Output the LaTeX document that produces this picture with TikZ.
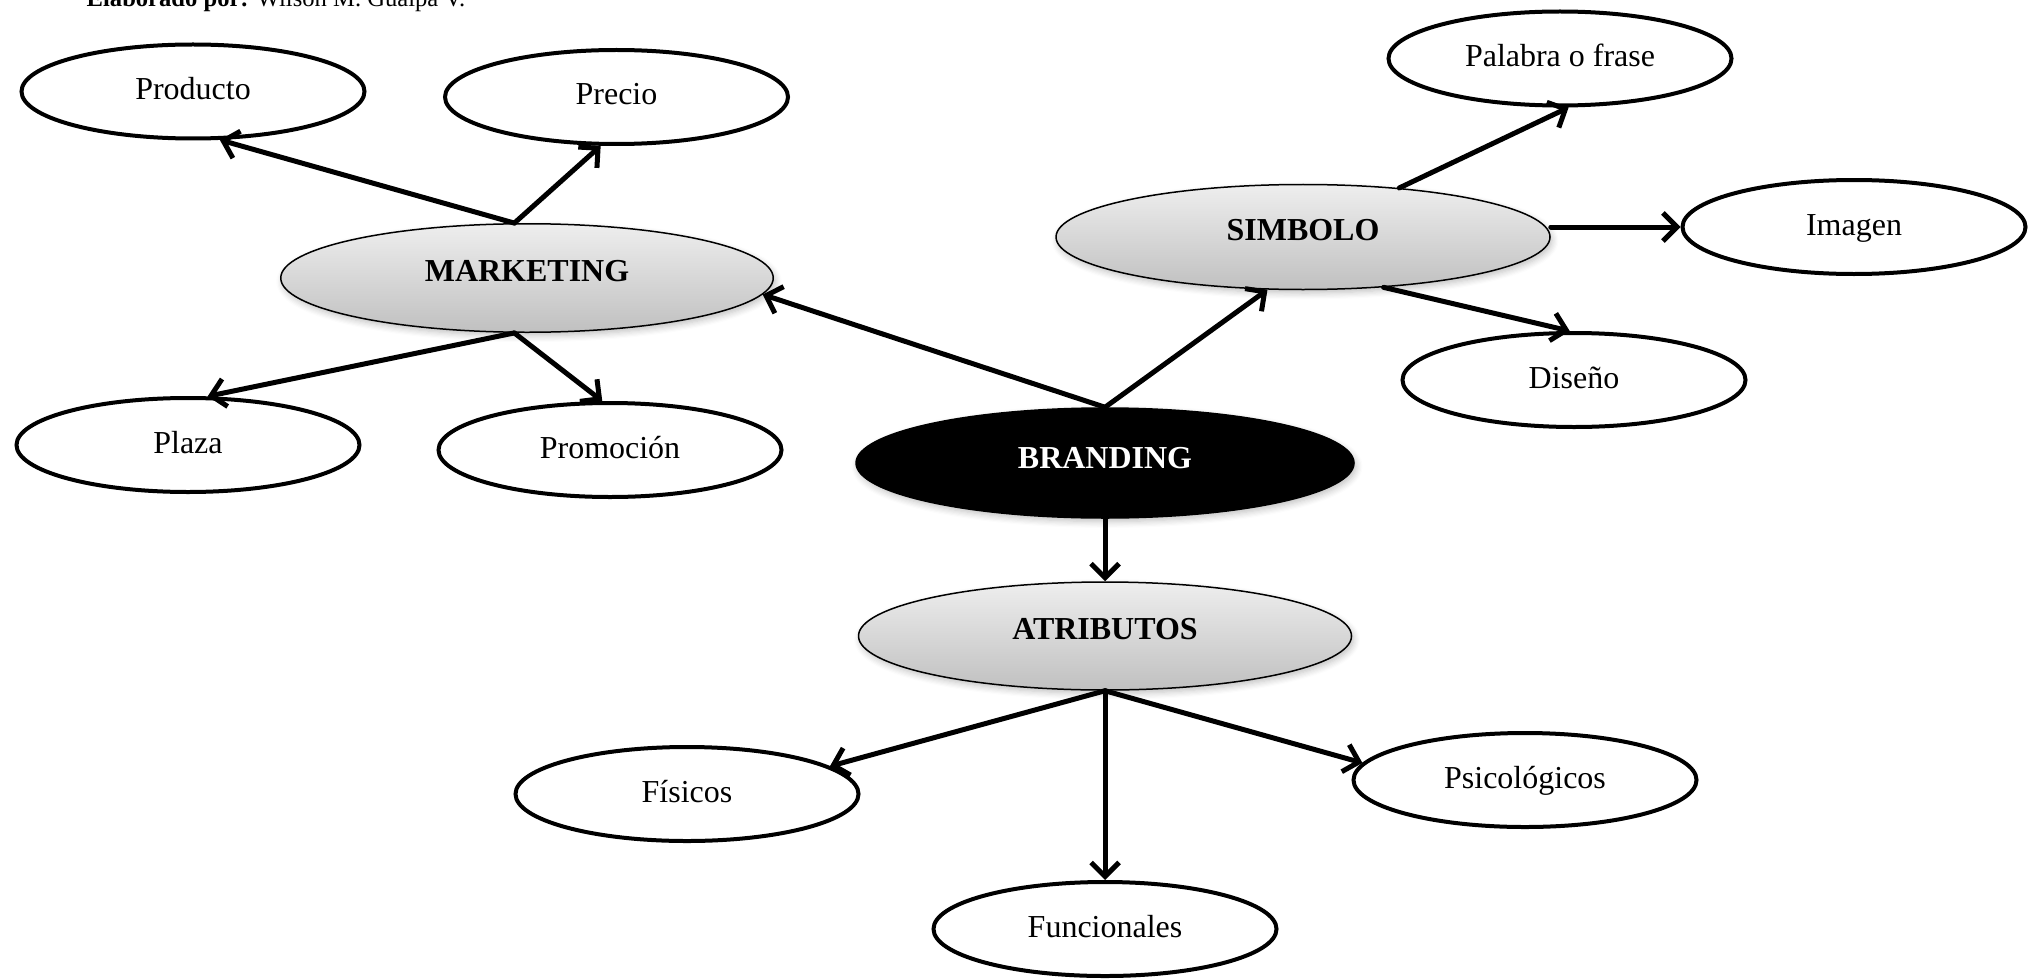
\documentclass[tikz,border=0pt]{standalone}
\usepackage{fontspec}
\setmainfont{Liberation Serif}
\usetikzlibrary{shapes.geometric,arrows.meta,shadows.blur}
\definecolor{gtop}{RGB}{238,238,238}
\definecolor{gbot}{RGB}{192,192,192}
\begin{document}
\begin{tikzpicture}[
  every node/.style={font=\fontsize{9.1pt}{10.5pt}\selectfont},
  leaf/.style={ellipse, draw=black, line width=0.04cm, fill=white,
    minimum width=3.43cm, minimum height=0.94cm, inner sep=0pt,
    text height=0.23cm, text depth=0.07cm},
  hub/.style={ellipse, draw=black, line width=0.015cm,
    top color=gtop, bottom color=gbot,
    blur shadow={shadow xshift=0.02cm, shadow yshift=-0.035cm, shadow blur steps=6, shadow opacity=25},
    minimum width=4.93cm, minimum height=1.08cm, inner sep=0pt,
    font=\fontsize{9.1pt}{10.5pt}\selectfont\bfseries,
    text height=0.21cm, text depth=0.15cm},
  core/.style={ellipse, draw=black, line width=0.015cm, fill=black, text=white,
    blur shadow={shadow xshift=0.02cm, shadow yshift=-0.035cm, shadow blur steps=6, shadow opacity=25},
    minimum width=4.98cm, minimum height=1.10cm, inner sep=0pt,
    font=\fontsize{9.1pt}{10.5pt}\selectfont\bfseries,
    text height=0.21cm, text depth=0.11cm},
  conn/.style={line width=0.05cm, line cap=round, line join=round,
    -{Straight Barb[length=0.14cm,width=0.28cm]}},
  header/.style={anchor=base west, inner sep=0pt, font=\fontsize{7pt}{8pt}\selectfont}
]
\useasboundingbox (0,0) rectangle (20.42,-9.79);

\node[header] (hdr) at (0.86,-0.07) {\textbf{Elaborado por:} Wilson M. Gualpa V.};

\node[leaf] (producto) at (1.93,-0.915) {Producto};
\node[leaf] (precio) at (6.165,-0.97) {Precio};
\node[hub, minimum width=4.925cm, minimum height=1.085cm] (marketing) at (5.27,-2.78) {MARKETING};
\node[leaf] (plaza) at (1.88,-4.45) {Plaza};
\node[leaf] (promocion) at (6.10,-4.50) {Promoción};
\node[core] (branding) at (11.05,-4.63) {BRANDING};
\node[hub, minimum width=4.94cm, minimum height=1.05cm] (simbolo) at (13.03,-2.37) {SIMBOLO};
\node[leaf] (palabra) at (15.60,-0.585) {Palabra o frase};
\node[leaf] (imagen) at (18.54,-2.27) {Imagen};
\node[leaf] (diseno) at (15.74,-3.80) {Diseño};
\node[hub] (atributos) at (11.05,-6.36) {ATRIBUTOS};
\node[leaf] (fisicos) at (6.87,-7.94) {Físicos};
\node[leaf] (psico) at (15.25,-7.80) {Psicológicos};
\node[leaf] (funcionales) at (11.05,-9.29) {Funcionales};

\draw[conn] (marketing.103) -- (producto.-61);
\draw[conn] (marketing.103) -- (precio.-108);
\draw[conn] (marketing.-103) -- (plaza.68);
\draw[conn] (marketing.-103) -- (promocion.99);
\draw[conn] (branding.north) -- (marketing.-4);
\draw[conn] (branding.north) -- (simbolo.-124);
\draw[conn] (simbolo.27) -- (palabra.-80);
\draw[conn] (simbolo.east |- imagen.west) -- (imagen.west);
\draw[conn] (simbolo.-32) -- (diseno.95);
\draw[conn] (branding.south) -- (atributos.north);
\draw[conn] (atributos.south) -- (fisicos.11);
\draw[conn] (atributos.south) -- (funcionales.north);
\draw[conn] (atributos.south) -- (psico.174);
\end{tikzpicture}
\end{document}
